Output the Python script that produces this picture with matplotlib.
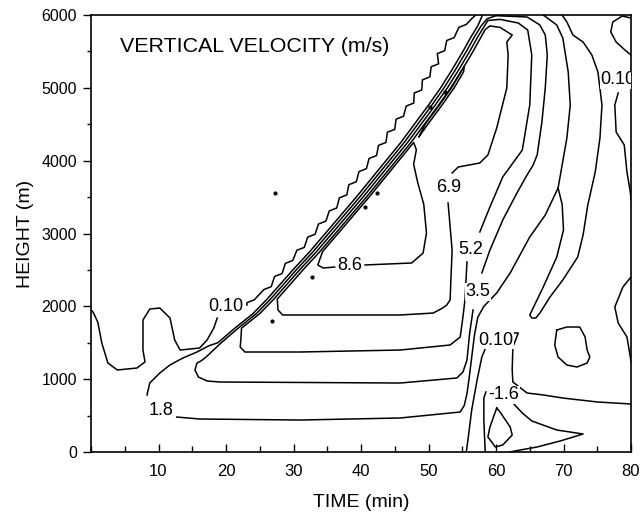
import matplotlib.pyplot as plt
from matplotlib.ticker import MultipleLocator

plt.rcParams['font.family'] = ['Liberation Sans', 'DejaVu Sans']

# contour paths: (time [min], height [m])
w010_left = [(0.0, 1950), (0.3, 1922), (1.0, 1785), (1.6, 1497), (2.5, 1222), (3.9, 1126),
             (6.8, 1153), (8.0, 1236), (7.7, 1400), (7.7, 1812), (8.7, 1963), (10.2, 1977),
             (11.7, 1840), (12.4, 1538), (13.2, 1400), (16.1, 1428), (17.2, 1538), (18.2, 1703),
             (18.7, 1840)]
w010_front = [(23.1, 2018), (23.1, 2050), (24.2, 2090), (25.6, 2230), (26.7, 2270), (27.2, 2410),
              (28.3, 2450), (28.8, 2590), (29.9, 2630), (30.5, 2770), (31.6, 2810), (32.1, 2950),
              (33.2, 2990), (33.7, 3130), (34.8, 3170), (35.3, 3310), (36.4, 3350), (36.8, 3490),
              (37.9, 3530), (38.2, 3670), (39.3, 3710), (39.7, 3850), (40.8, 3890), (41.2, 4030),
              (42.3, 4070), (42.6, 4210), (43.7, 4250), (43.9, 4390), (45.0, 4430), (45.2, 4570),
              (46.3, 4610), (46.7, 4750), (47.8, 4790), (47.9, 4930), (49.0, 4970), (49.1, 5110),
              (50.2, 5150), (50.4, 5290), (51.5, 5330), (51.3, 5470), (52.4, 5510), (52.7, 5650),
              (53.8, 5690), (54.5, 5830), (55.6, 5870), (56.4, 5950), (57.0, 6000)]
w010_right_low = [(55.6, 0), (55.9, 206), (56.4, 577), (57.2, 989), (57.9, 1304), (58.4, 1414)]
w010_right = [(61.6, 1634), (63.3, 1634), (62.5, 1442), (62.4, 1126), (62.5, 961), (64.6, 810),
              (67.0, 783), (69.9, 741), (75.0, 687), (80.0, 659)]

w018_right = [(12.7, 480), (16.1, 453), (31.0, 439), (45.8, 467), (54.7, 549), (55.3, 640),
              (55.7, 800), (56.0, 1000), (56.4, 1300), (56.8, 1600), (57.3, 1850), (58.2, 2000),
              (60.1, 2183), (62.1, 2458), (65.0, 2952), (67.3, 3254), (69.2, 3625), (70.5, 4311),
              (71.0, 4764), (70.7, 5217), (69.9, 5684), (69.0, 5863), (67.0, 6000)]
w018_front = [(8.3, 783), (8.7, 947), (10.2, 1085), (11.7, 1195), (13.6, 1290), (15.7, 1373),
              (17.5, 1460), (18.8, 1500), (21.3, 1700), (24.0, 1900), (26.1, 2100), (28.0, 2300),
              (29.9, 2500), (32.4, 2750), (34.7, 3000), (37.0, 3250), (39.3, 3500), (41.5, 3750),
              (43.7, 4000), (45.9, 4250), (47.9, 4500), (49.9, 4750), (51.8, 5000), (53.5, 5250),
              (55.1, 5500), (56.3, 5700), (57.3, 5850), (58.0, 6000)]

w035 = [(57.9, 2458), (59.1, 2773), (61.0, 3185), (63.1, 3556), (64.6, 3803), (65.5, 3940),
        (66.1, 4078), (66.8, 4531), (67.3, 4998), (67.6, 5451), (67.3, 5725), (66.5, 5863),
        (64.6, 5973), (60.0, 5990), (58.7, 5950), (57.8, 5850), (56.8, 5700), (55.6, 5500),
        (54.0, 5250), (52.3, 5000), (50.4, 4750), (48.4, 4500), (46.4, 4250), (44.2, 4000),
        (42.0, 3750), (39.8, 3500), (37.5, 3250), (35.2, 3000), (32.9, 2750), (30.4, 2500),
        (28.5, 2300), (26.6, 2100), (24.5, 1900), (21.8, 1700), (19.3, 1500), (17.0, 1300),
        (16.3, 1250), (15.7, 1222), (15.4, 1126), (15.9, 1030), (17.2, 975), (19.1, 961),
        (45.8, 947), (54.2, 1016), (55.1, 1098), (55.7, 1263), (56.1, 1634), (56.6, 1950)]

w052 = [(57.6, 3021), (59.1, 3364), (61.0, 3776), (63.9, 4146), (65.0, 4764), (65.3, 5451),
        (64.7, 5794), (63.3, 5890), (60.6, 5940), (58.8, 5925), (58.3, 5850), (57.3, 5700),
        (56.1, 5500), (54.5, 5250), (52.8, 5000), (50.9, 4750), (48.9, 4500), (46.9, 4250),
        (44.7, 4000), (42.5, 3750), (40.3, 3500), (38.0, 3250), (35.7, 3000), (33.4, 2750),
        (30.9, 2500), (29.0, 2300), (27.1, 2100), (25.0, 1900), (22.3, 1700), (22.2, 1538),
        (22.1, 1442), (22.8, 1373), (31.0, 1373), (45.8, 1400), (53.2, 1469), (54.7, 1579),
        (55.1, 1854), (55.4, 2087), (55.7, 2609)]

w069 = [(53.5, 3831), (54.4, 3913), (57.6, 3968), (58.8, 4078), (60.1, 4448), (61.6, 4998),
        (61.8, 5451), (61.6, 5629), (62.4, 5725), (60.6, 5830), (59.1, 5850), (58.4, 5800),
        (57.8, 5700), (56.6, 5500), (55.0, 5250), (53.3, 5000), (51.4, 4750), (49.4, 4500),
        (47.4, 4250), (45.2, 4000), (43.0, 3750), (40.8, 3500), (38.5, 3250), (36.2, 3000),
        (33.9, 2750), (31.4, 2500), (29.5, 2300), (27.6, 2100), (27.7, 1950), (28.4, 1881),
        (45.8, 1881), (50.7, 1908), (52.1, 1977), (52.7, 2018), (53.2, 2087), (53.5, 2773),
        (52.9, 3419)]

w086 = [(36.1, 2540), (34.4, 2526), (33.6, 2568), (34.3, 2750), (36.6, 3000), (38.9, 3250),
        (41.2, 3500), (43.4, 3750), (45.6, 4000), (47.8, 4250), (48.2, 4150), (47.8, 3950),
        (48.4, 3700), (49.3, 3400), (49.7, 3007), (49.2, 2732), (47.5, 2595), (40.6, 2568)]
w086_thin = [(48.6, 4330), (49.9, 4500), (51.9, 4750), (53.8, 5000), (55.2, 5220), (55.3, 5300),
             (55.0, 5250), (53.4, 5000), (51.5, 4750), (49.5, 4500), (48.6, 4330)]

wm16_left = [(58.4, 0), (58.2, 439), (58.2, 741), (58.5, 824)]
wm16_wedge = [(62.5, 673), (63.9, 535), (65.3, 426), (69.0, 302), (72.9, 247), (69.5, 151),
              (66.1, 69), (62.8, 14), (62.1, 0)]
wm33_loop = [(60.1, 604), (59.1, 343), (58.8, 206), (59.9, 69), (61.0, 96), (62.4, 233),
             (62.1, 343), (60.6, 549), (60.1, 604)]

tongue = [(69.8, 6000), (70.5, 5904), (71.4, 5725), (72.9, 5629), (74.2, 5451), (75.1, 5217),
          (75.7, 4764), (75.4, 4311), (74.7, 3844), (73.6, 3391), (72.9, 2979), (72.1, 2677),
          (69.9, 2362), (68.0, 2128), (66.5, 1908), (65.9, 1840), (65.3, 1840), (65.0, 1881),
          (65.5, 1977), (67.0, 2265), (69.0, 2677), (70.0, 3048), (69.8, 3400), (69.2, 3625)]
blob_mid = [(69.0, 1675), (70.5, 1716), (72.4, 1716), (73.2, 1579), (73.5, 1400), (73.9, 1304),
            (73.5, 1222), (72.0, 1167), (70.5, 1194), (69.2, 1304), (68.7, 1469), (69.0, 1675)]
blob_edge = [(80.0, 2403), (78.8, 2265), (77.6, 1991), (78.1, 1771), (79.4, 1579), (79.9, 1304),
             (80.0, 1236)]
lobe_top = [(80.0, 5959), (78.7, 5986), (77.3, 5904), (77.0, 5767), (77.8, 5629), (79.1, 5519),
            (80.0, 5451)]
w010_edge = [(78.1, 4929), (77.6, 4764), (77.8, 4394), (79.0, 4215), (79.4, 3844), (79.9, 3570),
             (80.0, 3460)]

dots_t = [26.8, 27.3, 32.7, 40.6, 42.4, 50.2, 52.4]
dots_h = [1799, 3556, 2403, 3364, 3556, 4737, 4943]

# contour labels: text, time, height
lab_text = ['0.10', '1.8', '8.6', '6.9', '5.2', '3.5', '0.10', '-1.6']
lab_t = [19.9, 10.4, 38.4, 53.0, 56.3, 57.3, 60.0, 61.2]
lab_h = [1991, 563, 2554, 3625, 2787, 2197, 1530, 783]

paths = [w010_left, w010_front, w010_right_low, w010_right, w018_right, w018_front,
         w035, w052, w069, w086, w086_thin, wm16_left, wm16_wedge, wm33_loop,
         tongue, blob_mid, blob_edge, lobe_top, w010_edge]

fig = plt.figure(figsize=(6.42, 5.23), dpi=100)
ax = fig.add_axes([91 / 642, 71 / 523, 540 / 642, 437 / 523])

for p in paths:
    t, h = zip(*p)
    ax.plot(t, h, color='black', lw=1.1, solid_joinstyle='round')
ax.plot(dots_t, dots_h, 'o', color='black', ms=2)

for s, t, h in zip(lab_text, lab_t, lab_h):
    ax.text(t, h, s, fontsize=13, ha='center', va='center', zorder=5,
            bbox=dict(facecolor='white', edgecolor='none', pad=0.2))
ax.text(75.5, 5108, '0.10', fontsize=13, ha='left', va='center', clip_on=True,
        zorder=5, bbox=dict(facecolor='white', edgecolor='none', pad=0.2))

ax.text(0.054, 0.929, 'VERTICAL VELOCITY (m/s)', transform=ax.transAxes,
        fontsize=15.4, ha='left', va='center')

ax.set_xlim(0, 80)
ax.set_ylim(0, 6000)
ax.set_xticks(range(10, 81, 10))
ax.xaxis.set_minor_locator(MultipleLocator(5))
ax.set_yticks(range(0, 6001, 1000))
ax.yaxis.set_minor_locator(MultipleLocator(500))
ax.tick_params(axis='x', which='major', direction='in', length=6, width=1, labelsize=12, pad=9)
ax.tick_params(axis='x', which='minor', direction='in', length=4, width=1)
ax.tick_params(axis='y', which='major', direction='out', length=6, width=1, labelsize=11.5, pad=4)
ax.tick_params(axis='y', which='minor', direction='out', length=3, width=1)
for s in ax.spines.values():
    s.set_linewidth(1.2)

ax.set_xlabel('TIME (min)', fontsize=14)
ax.set_ylabel('HEIGHT (m)', fontsize=14)
ax.xaxis.set_label_coords(0.5, -0.095)
ax.yaxis.set_label_coords(-0.105, 0.5)

fig.savefig('out.png', dpi=100)
